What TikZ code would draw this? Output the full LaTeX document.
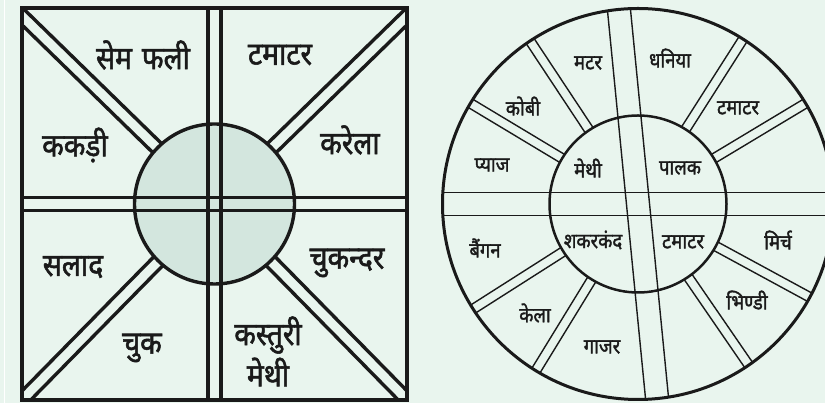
\documentclass[tikz,border=0pt]{standalone}
\usepackage{fontspec}
\newfontfamily\dev[Script=Devanagari,FakeStretch=0.88,FakeBold=1.6]{Noto Sans}
\usetikzlibrary{calc}
\definecolor{bgc}{HTML}{E9F5EE}
\definecolor{circc}{HTML}{D3E6DE}
\definecolor{inkc}{HTML}{1A1A1A}
\tikzset{
  heavy/.style={draw=inkc,line width=3.4pt},
  ringline/.style={draw=inkc,line width=2.5pt},
  outerline/.style={draw=inkc,line width=3pt},
  fine/.style={draw=inkc,line width=1.4pt},
  biglabel/.style={font=\dev\fontsize{32}{36}\selectfont,text=inkc,inner sep=0pt,align=center},
  smalllabel/.style={font=\dev\fontsize{21}{24}\selectfont,text=inkc,inner sep=0pt},
}
\begin{document}
\begin{tikzpicture}[x=1pt,y=1pt]
\useasboundingbox (0,0) rectangle (825,403);
\clip (0,0) rectangle (825,403);
\fill[bgc] (0,0) rectangle (825,403);
\draw[white,line width=1.2pt] (4.5,0) -- (4.5,403);

% ---------- left panel ----------
\coordinate (L) at (214.5,199);
\fill[circc] (L) circle (80);
\begin{scope}
  \clip (22,3) rectangle (407,395);
  \foreach \a in {135.7,44.3,225.5,314.5}{
    \foreach \d in {6.3,-6.3}{
      \draw[heavy] ($(L)+(\a:79.75)+({\a+90}:\d)$) -- ($(L)+(\a:320)+({\a+90}:\d)$);
    }
  }
\end{scope}
\draw[heavy] (208,3) -- (208,395);
\draw[heavy] (221,3) -- (221,395);
\draw[heavy] (22,192.7) -- (407,192.7);
\draw[heavy] (22,205.5) -- (407,205.5);
\draw[heavy] (L) circle (80);
\draw[heavy] (22,3) rectangle (407,395);

\node[biglabel] (t1) at (143,348) {सेम\hspace{10pt}फली};
\node[biglabel] (t2) at (280,348) {टमाटर};
\node[biglabel] (t3) at (75,258) {ककड़ी};
\node[biglabel] (t4) at (350,263) {करेला};
\node[biglabel] (t5) at (73,136) {सलाद};
\node[biglabel] (t6) at (347,140) {चुकन्दर};
\node[biglabel] (t7) at (142,55) {चुक};
\node[biglabel] (t8) at (268,68) {कस्तुरी};
\node[biglabel] (t9) at (268,31) {मेथी};

% ---------- right panel ----------
\coordinate (C) at (638,199);
\foreach \a in {31,57.5,123.5,149,212.5,238.5,304.5,331.5}{
  \foreach \d in {4.7,-4.7}{
    \draw[fine] ($(C)+(\a:87.87)+({\a+90}:\d)$) -- ($(C)+(\a:195.44)+({\a+90}:\d)$);
  }
}
\foreach \a/\d in {0/11.6,0/-11.6,95.6/11.5,95.6/-11.5}{
  \draw[fine] ($(C)+(\a:195.16)+({\a+90}:\d)$) -- ($(C)+({\a+180}:195.16)+({\a+90}:\d)$);
}
\draw[ringline] (C) circle (88.5);
\draw[outerline] (C) circle (195.5);

\node[smalllabel] (r1) at (588,340) {मटर};
\node[smalllabel] (r2) at (670,345) {धनिया};
\node[smalllabel] (r3) at (523,297) {कोबी};
\node[smalllabel] (r4) at (738,295) {टमाटर};
\node[smalllabel] (r5) at (492,238) {प्याज};
\node[smalllabel] (r6) at (588,235) {मेथी};
\node[smalllabel] (r7) at (680,235) {पालक};
\node[smalllabel] (r8) at (485,155) {बैंगन};
\node[smalllabel] (r9) at (593,163) {शकरकंद};
\node[smalllabel] (r10) at (683,161) {टमाटर};
\node[smalllabel] (r11) at (778,163) {मिर्च};
\node[smalllabel] (r12) at (535,90) {केला};
\node[smalllabel] (r13) at (747,103) {भिण्डी};
\node[smalllabel] (r14) at (602,56) {गाजर};
\end{tikzpicture}
\end{document}
